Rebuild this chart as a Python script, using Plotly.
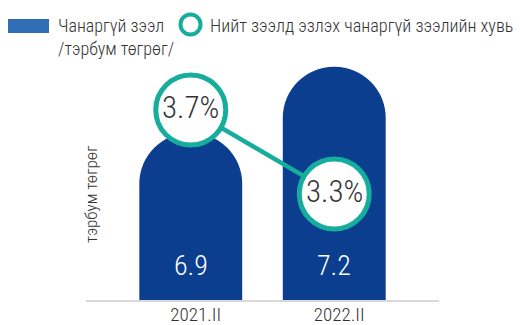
import plotly.graph_objects as go

# Data
periods = ["2021.II", "2022.II"]
npl_amount = [6.9, 7.2]          # тэрбум төгрөг
npl_share = [3.7, 3.3]           # %
bar_labels = ["6.9", "7.2"]
share_labels = ["3.7%", "3.3%"]

FONT = "Roboto Condensed, Roboto, Arial, sans-serif"
WEIGHT = 300
BAR_BLUE = "#0b3e8e"
LEGEND_BLUE = "#2f6eb5"
TEAL = "#16ad9d"
TEXT = "#333333"

W, H = 520, 325
ML, MR, MT, MB = 86, 81, 20, 25
PW, PH = W - ML - MR, H - MT - MB


def px_x(x):
    return (x - ML) / PW


def px_y(y):
    return (H - MB - y) / PH


def font(size, color=TEXT):
    return dict(family=FONT, size=size, color=color, weight=WEIGHT)


fig = go.Figure()

fig.add_trace(go.Bar(
    x=periods, y=npl_amount,
    marker=dict(color=BAR_BLUE, line=dict(width=0)),
    hoverinfo="skip", showlegend=False,
))

fig.add_trace(go.Scatter(
    x=periods, y=npl_share, yaxis="y2",
    mode="lines+markers",
    line=dict(color=TEAL, width=4.5),
    marker=dict(symbol="circle", size=70, color="white",
                line=dict(color=TEAL, width=5)),
    hoverinfo="skip", showlegend=False,
))

# values inside bars
for p, lab in zip(periods, bar_labels):
    fig.add_annotation(x=p, xref="x", y=0, yref="paper", yanchor="middle",
                       yshift=35, text=lab, showarrow=False,
                       font=font(28, "white"))

# values inside circles
for p, v, lab in zip(periods, npl_share, share_labels):
    fig.add_annotation(x=p, xref="x", y=v, yref="y2", yanchor="middle",
                       yshift=2, text=lab, showarrow=False,
                       font=font(31))

# axis title
fig.add_annotation(x=px_x(91), y=px_y(194), xref="paper", yref="paper",
                   text="тэрбум төгрөг", textangle=-90, showarrow=False,
                   xanchor="center", yanchor="middle",
                   font=font(17))

# legend
fig.add_shape(type="rect", xref="paper", yref="paper",
              x0=px_x(8), x1=px_x(49), y0=px_y(33), y1=px_y(19),
              fillcolor=LEGEND_BLUE, line=dict(width=0))
fig.add_annotation(x=px_x(56), y=px_y(13), xref="paper", yref="paper",
                   text="Чанаргүй зээл<br>/тэрбум төгрөг/", showarrow=False,
                   xanchor="left", yanchor="top", align="left",
                   font=font(18))
fig.add_shape(type="circle", xref="paper", yref="paper",
              x0=px_x(180.5), x1=px_x(200.5), y0=px_y(34.5), y1=px_y(14.5),
              fillcolor="white", line=dict(color=TEAL, width=4))
fig.add_annotation(x=px_x(208), y=px_y(25), xref="paper", yref="paper",
                   text="Нийт зээлд эзлэх чанаргүй зээлийн хувь", showarrow=False,
                   xanchor="left", yanchor="middle",
                   font=font(18.2))

fig.update_layout(
    width=W, height=H,
    margin=dict(l=ML, r=MR, t=MT, b=MB, pad=0),
    paper_bgcolor="white", plot_bgcolor="white",
    bargap=0.283, barcornerradius="50%",
    showlegend=False,
    xaxis=dict(type="category", range=[-0.73, 1.73], showline=True,
               linecolor="#d9d9d9", linewidth=1.5, showgrid=False,
               ticks="", ticklabelshift=5, ticklabelstandoff=-4,
               automargin=False,
               tickfont=font(19)),
    yaxis=dict(range=[6.14, 7.4127], visible=False, showgrid=False,
               zeroline=False, automargin=False),
    yaxis2=dict(range=[2.795, 4.128], overlaying="y", visible=False,
                showgrid=False, zeroline=False, automargin=False),
)

fig.write_html("out.html")
